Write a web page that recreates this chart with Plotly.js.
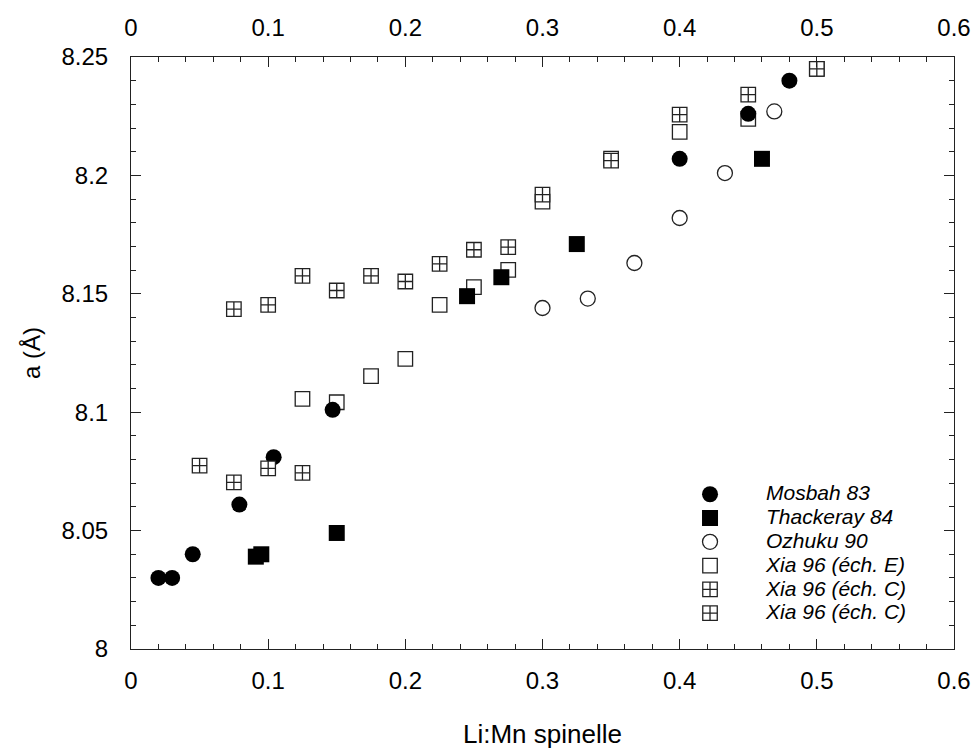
<!DOCTYPE html>
<html>
<head>
<meta charset="utf-8">
<script src="https://cdn.plot.ly/plotly-3.0.1.min.js"></script>
<style>html,body{margin:0;padding:0;background:#fff;}#chart{width:974px;height:749px;}</style>
</head>
<body>
<div id="chart"></div>
<script>
// Mosbah 83
const mosbahX = [0.02, 0.03, 0.045, 0.079, 0.104, 0.147, 0.40, 0.45, 0.48];
const mosbahY = [8.030, 8.030, 8.040, 8.061, 8.081, 8.101, 8.207, 8.226, 8.240];
// Thackeray 84
const thackX = [0.091, 0.095, 0.150, 0.245, 0.270, 0.325, 0.460];
const thackY = [8.039, 8.040, 8.049, 8.149, 8.157, 8.171, 8.207];
// Ozhuku 90
const ozhX = [0.300, 0.333, 0.367, 0.400, 0.433, 0.469];
const ozhY = [8.144, 8.148, 8.163, 8.182, 8.201, 8.227];
// Xia 96 (éch. E)
const xiaEX = [0.125, 0.150, 0.175, 0.200, 0.225, 0.250, 0.275, 0.300, 0.350, 0.400, 0.450, 0.500];
const xiaEY = [8.1056, 8.1042, 8.1152, 8.1225, 8.1453, 8.1528, 8.1601, 8.1889, 8.2071, 8.2184, 8.2239, 8.245];
// Xia 96 (éch. C) - first set
const xiaC1X = [0.050, 0.075, 0.100, 0.125];
const xiaC1Y = [8.0774, 8.0704, 8.0763, 8.0744];
// Xia 96 (éch. C) - second set
const xiaC2X = [0.075, 0.100, 0.125, 0.150, 0.175, 0.200, 0.225, 0.250, 0.275, 0.300, 0.350, 0.400, 0.450, 0.500];
const xiaC2Y = [8.1435, 8.1453, 8.1576, 8.1514, 8.1576, 8.1552, 8.1626, 8.1686, 8.1697, 8.1919, 8.2062, 8.2257, 8.2341, 8.245];

const names = ['Mosbah 83', 'Thackeray 84', 'Ozhuku 90', 'Xia 96 (éch. E)', 'Xia 96 (éch. C)', 'Xia 96 (éch. C)'];
const xTicks = [0, 0.1, 0.2, 0.3, 0.4, 0.5, 0.6];
const yTicks = [8, 8.05, 8.1, 8.15, 8.2, 8.25];

const LINE = '#222';
function nm(s){ return '<span style="font-size:21px">' + s + '</span>'; }

const traces = [
  {x: xiaEX, y: xiaEY, name: nm(names[3]), legendrank: 4, mode: 'markers', type: 'scatter',
   marker: {symbol: 'square', size: 14.5, color: '#fff', line: {color: LINE, width: 1.3}}},
  {x: mosbahX, y: mosbahY, name: nm(names[0]), legendrank: 1, mode: 'markers', type: 'scatter',
   marker: {symbol: 'circle', size: 16, color: '#000', line: {width: 0}}},
  {x: thackX, y: thackY, name: nm(names[1]), legendrank: 2, mode: 'markers', type: 'scatter',
   marker: {symbol: 'square', size: 16, color: '#000', line: {width: 0}}},
  {x: ozhX, y: ozhY, name: nm(names[2]), legendrank: 3, mode: 'markers', type: 'scatter',
   marker: {symbol: 'circle', size: 15, color: '#fff', line: {color: LINE, width: 1.3}}},
  {x: xiaC1X, y: xiaC1Y, name: nm(names[4]), legendrank: 5, mode: 'markers', type: 'scatter',
   marker: {symbol: 'square-cross', size: 14.5, color: '#fff', line: {color: LINE, width: 1.3}}},
  {x: xiaC2X, y: xiaC2Y, name: nm(names[5]), legendrank: 6, mode: 'markers', type: 'scatter',
   marker: {symbol: 'square-cross', size: 14.5, color: '#fff', line: {color: LINE, width: 1.3}}},
  // invisible copy used only to activate the top/right mirror axes
  {x: mosbahX, y: mosbahY, xaxis: 'x2', yaxis: 'y2', mode: 'markers', type: 'scatter',
   showlegend: false, hoverinfo: 'skip', marker: {opacity: 0, size: 1}}
];

const FONT = 'Liberation Sans, Arial, sans-serif';
const tickCommon = {ticks: 'inside', ticklen: 10, tickwidth: 1, tickcolor: LINE,
  showline: true, linecolor: LINE, linewidth: 1, showgrid: false, zeroline: false};
const layout = {
  width: 974, height: 749,
  margin: {l: 131, r: 20, t: 57, b: 100, pad: 0},
  paper_bgcolor: '#fff', plot_bgcolor: '#fff',
  font: {family: FONT, color: '#000', size: 24},
  showlegend: true,
  legend: {
    x: 0.6355, xanchor: 'left', y: 0.29, yanchor: 'top',
    bgcolor: 'rgba(0,0,0,0)', borderwidth: 0,
    font: {family: FONT, size: 16, style: 'italic', color: '#000'},
    itemwidth: 102, tracegroupgap: 0
  },
  xaxis: Object.assign({}, tickCommon, {
    range: [0, 0.6], tickvals: xTicks, ticktext: xTicks.map(String),
    ticklabelstandoff: 10,
    tickfont: {family: FONT, size: 24},
    minor: {dtick: 0.02, ticklen: 5, tickcolor: LINE, ticks: 'inside', showgrid: false},
    title: {text: 'Li:Mn spinelle', font: {family: FONT, size: 26}, standoff: 40}
  }),
  xaxis2: Object.assign({}, tickCommon, {
    overlaying: 'x', side: 'top', anchor: 'y2',
    range: [0, 0.6], tickvals: xTicks, ticktext: xTicks.map(String),
    ticklabelstandoff: 10,
    tickfont: {family: FONT, size: 24},
    minor: {dtick: 0.02, ticklen: 5, tickcolor: LINE, ticks: 'inside', showgrid: false}
  }),
  yaxis: Object.assign({}, tickCommon, {
    range: [8, 8.25], tickvals: yTicks, ticktext: yTicks.map(String),
    ticklabelstandoff: 17,
    tickfont: {family: FONT, size: 24},
    minor: {dtick: 0.01, ticklen: 5, tickcolor: LINE, ticks: 'inside', showgrid: false},
    title: {text: 'a (Å)', font: {family: FONT, size: 24}, standoff: 14}
  }),
  yaxis2: Object.assign({}, tickCommon, {
    overlaying: 'y', side: 'right', anchor: 'x2',
    range: [8, 8.25], tickvals: yTicks, showticklabels: false,
    minor: {dtick: 0.01, ticklen: 5, tickcolor: LINE, ticks: 'inside', showgrid: false}
  })
};

Plotly.newPlot('chart', traces, layout, {staticPlot: true, displayModeBar: false});
</script>
</body>
</html>
